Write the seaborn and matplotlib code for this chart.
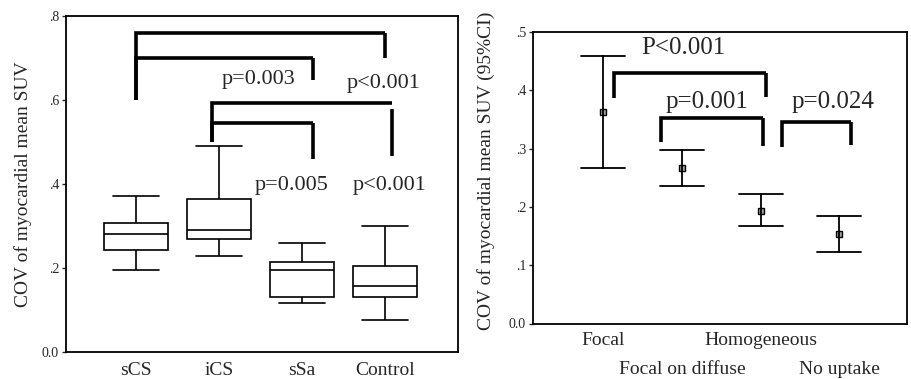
import numpy as np
import pandas as pd
import matplotlib
matplotlib.use("Agg")
import matplotlib.pyplot as plt
import seaborn as sns

# ---- Left panel data: box plot five-number summaries ----
groups = ["sCS", "iCS", "sSa", "Control"]
whisker_low = [0.195, 0.228, 0.116, 0.076]
q1 = [0.244, 0.268, 0.130, 0.130]
median = [0.280, 0.290, 0.195, 0.158]
q3 = [0.308, 0.365, 0.215, 0.205]
whisker_high = [0.372, 0.490, 0.259, 0.300]
left_yticks = [0.0, 0.2, 0.4, 0.6, 0.8]
left_yticklabels = ["0.0", ".2", ".4", ".6", ".8"]

# ---- Right panel data: mean and 95% CI ----
uptake = ["Focal", "Focal on diffuse", "Homogeneous", "No uptake"]
mean_cov = [0.363, 0.266, 0.193, 0.153]
ci_low = [0.267, 0.236, 0.167, 0.123]
ci_high = [0.459, 0.298, 0.222, 0.184]
right_yticks = [0.0, 0.1, 0.2, 0.3, 0.4, 0.5]
right_yticklabels = ["0.0", ".1", ".2", ".3", ".4", ".5"]

# ---- significance annotations ----
left_pvals = ["p=0.003", "p<0.001", "p=0.005", "p<0.001"]
right_pvals = ["P<0.001", "p=0.001", "p=0.024"]

sns.set_theme(style="white")
plt.rcParams["font.family"] = ["Liberation Serif", "DejaVu Serif"]

W, H = 911, 379
fig = plt.figure(figsize=(W / 100, H / 100), dpi=100)
ax1 = fig.add_axes([66 / W, 1 - 352 / H, (458 - 66) / W, (352 - 16) / H])
ax2 = fig.add_axes([533 / W, 1 - 323.5 / H, (907 - 533) / W, (323.5 - 32) / H])

# ---------- Left: boxplot ----------
box_df = pd.DataFrame({
    "group": np.repeat(groups, 5),
    "value": np.ravel(np.column_stack([whisker_low, q1, median, q3, whisker_high])),
})
sns.boxplot(data=box_df, x="group", y="value", order=groups, ax=ax1,
            whis=np.inf, width=0.77, color="white", linecolor="black",
            linewidth=1.2, showfliers=False, capwidths=0.55)
ax1.set_ylim(0, 0.8)
ax1.set_xlim(-0.84, 3.88)
ax1.set_yticks(left_yticks)
ax1.set_yticklabels(left_yticklabels, fontsize=10)
ax1.set_xlabel("")
ax1.set_ylabel("COV of myocardial mean SUV", fontsize=14)
ax1.yaxis.set_label_coords(-0.087, 0.5)
ax1.tick_params(axis="x", labelsize=14, pad=7, length=0)
ax1.tick_params(axis="y", length=3, width=1, direction="out", pad=2, left=True)

def bracket(ax, x1, x2, ytop, y1, y2, lw=2.6, y2start=None):
    ax.plot([x1, x1, x2], [y1, ytop, ytop], color="black", lw=lw,
            solid_joinstyle="miter", solid_capstyle="butt")
    ax.plot([x2, x2], [ytop if y2start is None else y2start, y2], color="black",
            lw=lw, solid_capstyle="butt")

bracket(ax1, 0.0, 3.0, 0.760, 0.600, 0.700)
bracket(ax1, 0.0, 2.13, 0.700, 0.600, 0.648)
bracket(ax1, 0.92, 3.08, 0.593, 0.500, 0.467, y2start=0.578)
bracket(ax1, 0.92, 2.13, 0.546, 0.500, 0.460)
left_text_pos = [(1.48, 0.648), (2.98, 0.640), (1.88, 0.397), (3.06, 0.397)]
for (tx, ty), s in zip(left_text_pos, left_pvals):
    ax1.text(tx, ty, s, ha="center", va="center", fontsize=16)

# ---------- Right: mean with 95% CI ----------
ci_df = pd.DataFrame({
    "uptake": np.repeat(uptake, 3),
    "value": np.ravel(np.column_stack([ci_low, mean_cov, ci_high])),
})
sns.pointplot(data=ci_df, x="uptake", y="value", order=uptake, ax=ax2,
              estimator="median", errorbar=("pi", 100), capsize=0.56,
              linestyle="none", marker="s", color="black", markersize=4.5,
              markerfacecolor="#a0a0a0", markeredgewidth=1.0,
              err_kws={"linewidth": 1.3})
ax2.set_ylim(0, 0.5)
ax2.set_xlim(-0.89, 3.86)
ax2.set_yticks(right_yticks)
ax2.set_yticklabels(right_yticklabels, fontsize=10)
# staggered category labels: even positions on first row, odd on second row
ax2.set_xticks([i for i in range(len(uptake)) if i % 2 == 0])
ax2.set_xticklabels([lab for i, lab in enumerate(uptake) if i % 2 == 0], fontsize=14)
ax2.set_xticks([i for i in range(len(uptake)) if i % 2 == 1], minor=True)
ax2.set_xticklabels([lab for i, lab in enumerate(uptake) if i % 2 == 1], fontsize=14,
                    minor=True)
ax2.set_xlabel("")
ax2.set_ylabel("COV of myocardial mean SUV (95%CI)", fontsize=14)
ax2.yaxis.set_label_coords(-0.102, 0.525)
ax2.tick_params(axis="x", which="major", pad=6, length=0)
ax2.tick_params(axis="x", which="minor", pad=27, length=0)
ax2.tick_params(axis="y", length=3, width=1, direction="out", pad=2, left=True)

bracket(ax2, 0.14, 2.07, 0.429, 0.387, 0.389)
bracket(ax2, 0.74, 2.03, 0.352, 0.312, 0.305)
bracket(ax2, 2.27, 3.15, 0.345, 0.303, 0.307)
right_text_pos = [(1.02, 0.473), (1.32, 0.380), (2.92, 0.380)]
for (tx, ty), s in zip(right_text_pos, right_pvals):
    ax2.text(tx, ty, s, ha="center", va="center", fontsize=18)

for ax in (ax1, ax2):
    for sp in ax.spines.values():
        sp.set_visible(True)
        sp.set_color("black")
        sp.set_linewidth(1.3)

fig.savefig("out.png", dpi=100, facecolor="white")
